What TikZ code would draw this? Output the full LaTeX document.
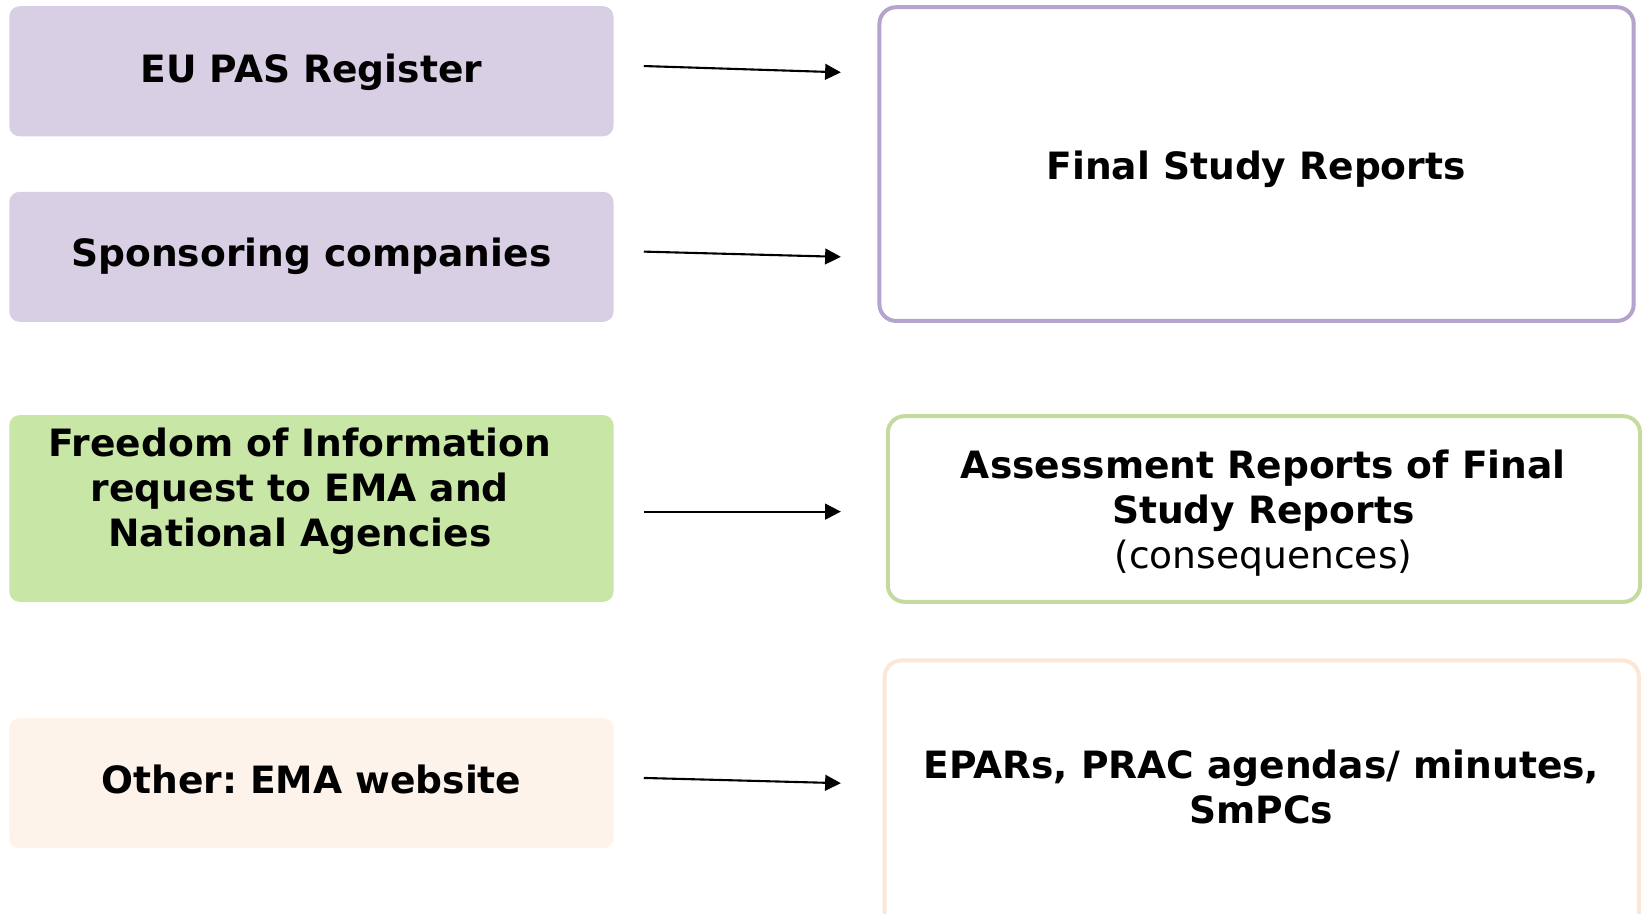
\documentclass[tikz,border=0pt]{standalone}
\usepackage{fontspec}
\setmainfont{DejaVu Sans}
\frenchspacing
\usetikzlibrary{arrows.meta}
\definecolor{lilac}{RGB}{217,207,228}
\definecolor{lilacline}{RGB}{180,163,204}
\definecolor{leaf}{RGB}{200,230,165}
\definecolor{leafline}{RGB}{196,218,158}
\definecolor{peach}{RGB}{253,243,234}
\definecolor{peachline}{RGB}{252,231,214}
\tikzset{
	srcbox/.style={rounded corners=2.8pt, minimum width=5.76cm},
	docbox/.style={rounded corners=4.5pt, line width=1.08pt},
	txt/.style={align=center, font=\fontsize{10.2}{12.2}\selectfont\bfseries},
	feed/.style={line width=0.57pt, -{Triangle[length=1.5mm,width=1.5mm]}}
}

\begin{document}
\begin{tikzpicture}[x=0.01cm, y=-0.01cm]
		%%%%% START %%%%%
		\clip (0, 0) rectangle (1568, 871);
		
		\node[srcbox, fill=lilac, minimum height=1.24cm] (pas) at (297, 68) {};
		\node[txt] (pastxt) at (297, 69) {EU PAS Register};
		\node[srcbox, fill=lilac, minimum height=1.24cm] (spon) at (297, 245) {};
		\node[txt] (spontxt) at (297, 244) {Sponsoring companies};
		\node[srcbox, fill=leaf, minimum height=1.78cm] (foi) at (297, 485) {};
		\node[txt] (foitxt) at (286, 469) {Freedom of Information\\request to EMA and\\National Agencies};
		\node[srcbox, fill=peach, minimum height=1.24cm] (web) at (297, 747) {};
		\node[txt] (webtxt) at (297, 743) {Other: EMA website};
		
		\node[docbox, draw=lilacline, minimum width=7.19cm, minimum height=2.99cm] (fsr) at (1198.5, 156.5) {};
		\node[txt] (fsrtxt) at (1198, 161) {Final Study Reports};
		\node[docbox, draw=leafline, minimum width=7.17cm, minimum height=1.77cm] (ar) at (1205.5, 485.5) {};
		\node[txt] (artxt) at (1205, 489) {Assessment Reports of Final\\Study Reports\\\mdseries(consequences)};
		\node[docbox, draw=peachline, minimum width=7.19cm, minimum height=2.60cm] (epar) at (1203.5, 760) {};
		\node[txt] (epartxt) at (1203, 751) {EPARs, PRAC agendas/ minutes,\\SmPCs};
		
		\coordinate (s1) at (614, 63);  \coordinate (e1) at (802, 69);
		\coordinate (s2) at (614, 240); \coordinate (e2) at (802, 245);
		\coordinate (s3) at (614, 488); \coordinate (e3) at (802, 488);
		\coordinate (s4) at (614, 742); \coordinate (e4) at (802, 747);
		\foreach \i in {1,...,4}
			\draw[feed] (s\i) -- (e\i);
		
		%%%%% END %%%%%
\end{tikzpicture}
\end{document}
